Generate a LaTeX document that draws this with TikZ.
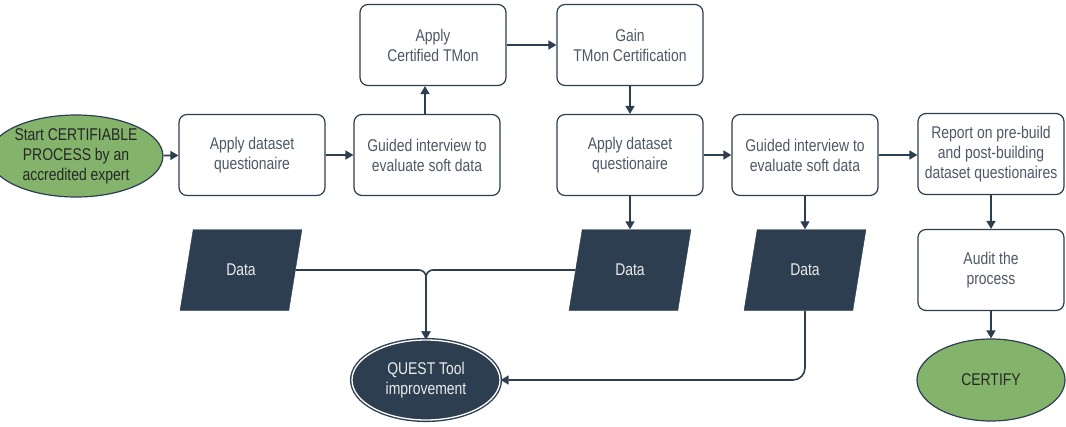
\documentclass[tikz,border=0pt]{standalone}
\usepackage{fontspec}
\setmainfont{Liberation Sans}[FakeStretch=0.82]
\usetikzlibrary{shapes.geometric,arrows.meta}
\definecolor{navy}{HTML}{2C3E50}
\definecolor{leaf}{HTML}{84B46C}
\definecolor{greytext}{HTML}{4E5866}
\tikzset{
  x=1pt,y=-1pt,
  every node/.style={font=\fontsize{17}{20}\selectfont, align=center},
  procbox/.style={draw=navy, line width=1.2pt, rounded corners=8pt, fill=white,
    minimum width=146pt, minimum height=81pt, text=greytext, inner sep=2pt},
  terminal/.style={ellipse, draw=navy, line width=1.2pt, fill=leaf,
    minimum width=148pt, minimum height=82pt, inner sep=0pt, text=black!85},
  datablock/.style={trapezium, trapezium left angle=75, trapezium right angle=105,
    trapezium stretches=true, fill=navy, draw=navy,
    minimum width=122pt, minimum height=81pt, text=white!92!black},
  toolnode/.style={ellipse, fill=navy, draw=navy, double=white, double distance=1.3pt,
    line width=1.4pt, minimum width=148pt, minimum height=80pt, inner sep=0pt,
    text=white!92!black},
  flow/.style={draw=navy, line width=1.6pt, -{Triangle[length=8pt,width=9pt]}},
}
\begin{document}
\begin{tikzpicture}
\useasboundingbox (0,0) rectangle (1066,426);

% top row
\node[procbox] (cert) at (433,45) {Apply\\Certified TMon};
\node[procbox] (gain) at (630,45) {Gain\\TMon Certification};

% middle row
\node[terminal] (start) at (76,156) {Start CERTIFIABLE\\PROCESS by an\\accredited expert};
\node[procbox] (q1) at (252,155) {Apply dataset\\questionaire};
\node[procbox] (g1) at (427,155) {Guided interview to\\evaluate soft data};
\node[procbox] (q2) at (630,155) {Apply dataset\\questionaire};
\node[procbox] (g2) at (805,155) {Guided interview to\\evaluate soft data};
\node[procbox] (rep) at (991,154) {Report on pre-build\\and post-building\\dataset questionaires};

% data row
\node[datablock] (d1) at (241,270) {Data};
\node[datablock] (d2) at (630,270) {Data};
\node[datablock] (d3) at (805,270) {Data};
\node[procbox] (audit) at (991,270) {Audit the\\process};

% end points
\node[toolnode] (tool) at (426,380) {QUEST Tool\\improvement};
\node[terminal] (done) at (991,380) {CERTIFY};

% main flow
\draw[flow] (start) -- (q1);
\draw[flow] (q1) -- (g1);
\draw[flow] ([xshift=-2pt]g1.north) -- ([xshift=-2pt]g1.north |- cert.south);
\draw[flow] (cert) -- (gain);
\draw[flow] (gain) -- (q2);
\draw[flow] (q2) -- (g2);
\draw[flow] (g2.east) -- (g2.east -| rep.west);
\draw[flow] (rep) -- (audit);
\draw[flow] (audit) -- (done);

% data outputs
\draw[flow] (q2) -- (d2);
\draw[flow] (g2) -- (d3);

% data feeding the tool
\draw[flow, rounded corners=7pt] (d1.east) -- (d1.east -| tool.north) -- (tool.north);
\draw[flow, rounded corners=7pt] (d2.west) -- (d2.west -| tool.north) -- (tool.north);
\draw[flow, rounded corners=12pt] (d3.south) -- (d3.south |- tool.east) -- (tool.east);
\end{tikzpicture}
\end{document}
